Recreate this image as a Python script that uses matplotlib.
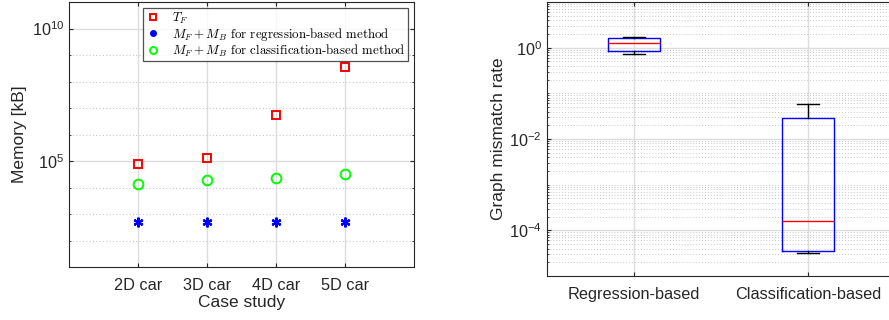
import matplotlib
matplotlib.use("Agg")
import matplotlib.pyplot as plt
from matplotlib.lines import Line2D
from matplotlib.font_manager import FontProperties
from matplotlib.ticker import FixedLocator, LogLocator, NullFormatter, LogFormatterSciNotation

# ---------------- data ----------------
cases = ["2D car", "3D car", "4D car", "5D car"]
tf_mem = [7.7e4, 1.3e5, 5.6e6, 3.5e8]
reg_mem = [490, 490, 490, 490]
cls_mem = [1.3e4, 1.9e4, 2.3e4, 3.2e4]

methods = ["Regression-based", "Classification-based"]
box_whislo = [0.73, 3.2e-5]
box_q1 = [0.85, 3.6e-5]
box_med = [1.25, 1.64e-4]
box_q3 = [1.6, 0.0283]
box_whishi = [1.69, 0.0575]

# ---------------- style ----------------
plt.rcParams["font.family"] = ["Liberation Sans", "DejaVu Sans"]
TXT = "#262626"
GRID = "#dcdcdc"

fig = plt.figure(figsize=(8.89, 3.2), dpi=100)

# ---------------- left: memory ----------------
ax1 = fig.add_axes([69 / 889, 1 - 267 / 320, 345 / 889, 265 / 320])
x = list(range(1, len(cases) + 1))
ax1.plot(x, tf_mem, ls="none", marker="s", ms=6, mfc="none", mec="#ff0000", mew=1.4, zorder=3)
ax1.plot(x, reg_mem, ls="none", marker=(6, 2, 0), ms=7, mec="#0000ff", mew=1.6, zorder=3)
ax1.plot(x, cls_mem, ls="none", marker="o", ms=7, mfc="none", mec="#00ff00", mew=1.4, zorder=3)
ax1.set_yscale("log")
ax1.set_ylim(1e1, 1e11)
ax1.set_xlim(0, 5)
ax1.set_xticks(x)
ax1.set_xticklabels(cases)
ax1.yaxis.set_major_locator(FixedLocator([1e5, 1e10]))
ax1.yaxis.set_major_formatter(LogFormatterSciNotation())
ax1.yaxis.set_minor_locator(FixedLocator([10.0 ** k for k in range(1, 12)]))
ax1.yaxis.set_minor_formatter(NullFormatter())
ax1.grid(True, which="major", color=GRID, lw=1.0, ls="-", zorder=0)
ax1.grid(True, which="minor", axis="y", color="#c8c8c8", lw=0.8, ls=(0, (1, 2)), zorder=0)
ax1.set_axisbelow(True)
ax1.set_xlabel("Case study", fontsize=12.5, color=TXT, labelpad=1)
ax1.set_ylabel("Memory [kB]", fontsize=12.5, color=TXT, labelpad=3)

handles = [
    Line2D([], [], ls="none", marker="s", ms=4, mfc="none", mec="#ff0000", mew=1.4),
    Line2D([], [], ls="none", marker="o", ms=4, mfc="#0000ff", mec="#0000ff"),
    Line2D([], [], ls="none", marker="o", ms=5, mfc="none", mec="#00ff00", mew=1.4),
]
labels = [r"$T_F$", r"$M_F + M_B$ for regression-based method",
          r"$M_F + M_B$ for classification-based method"]
lp = FontProperties(family="cmr10", size=9.3, math_fontfamily="cm")
leg = ax1.legend(handles, labels, loc="upper right", prop=lp, frameon=True, fancybox=False,
                 edgecolor=TXT, borderpad=0.15, labelspacing=0.0, handlelength=1.2,
                 handletextpad=0.9, borderaxespad=0.5, bbox_to_anchor=(1.0, 1.0))
leg.get_frame().set_linewidth(0.9)

# ---------------- right: mismatch rate ----------------
ax2 = fig.add_axes([547 / 889, 1 - 276 / 320, 348 / 889, 274 / 320])
stats = []
for i in range(len(methods)):
    stats.append(dict(label=methods[i], whislo=box_whislo[i], q1=box_q1[i], med=box_med[i],
                      q3=box_q3[i], whishi=box_whishi[i], fliers=[]))
ax2.bxp(stats, positions=[1, 2], widths=0.3, showfliers=False, patch_artist=False,
        boxprops=dict(color="#0000ff", lw=1.0),
        medianprops=dict(color="#ff0000", lw=1.0),
        whiskerprops=dict(color="black", lw=1.0),
        capprops=dict(color="black", lw=1.0), capwidths=0.13)
ax2.set_yscale("log")
ax2.set_ylim(1e-5, 1e1)
ax2.set_xlim(0.5, 2.5)
ax2.set_xticks([1, 2])
ax2.set_xticklabels(methods)
ax2.yaxis.set_major_locator(FixedLocator([1e-4, 1e-2, 1e0]))
ax2.yaxis.set_major_formatter(LogFormatterSciNotation())
ax2.yaxis.set_minor_locator(LogLocator(base=10, subs=range(1, 10), numticks=100))
ax2.yaxis.set_minor_formatter(NullFormatter())
ax2.grid(True, which="major", color=GRID, lw=1.0, ls="-", zorder=0)
ax2.grid(True, which="minor", axis="y", color="#c8c8c8", lw=0.7, ls=(0, (1, 2)), zorder=0)
ax2.set_axisbelow(True)
ax2.set_ylabel("Graph mismatch rate", fontsize=12.5, color=TXT, labelpad=2)

for ax in (ax1, ax2):
    ax.tick_params(axis="both", which="both", direction="in", top=True, right=True,
                   labelsize=11.7, colors=TXT, length=3)
    ax.tick_params(axis="y", which="minor", length=1.5)
    for s in ax.spines.values():
        s.set_color(TXT)
        s.set_linewidth(0.8)
ax1.tick_params(axis="x", pad=8)
ax2.tick_params(axis="x", pad=8)

fig.savefig("out.png", dpi=100)
